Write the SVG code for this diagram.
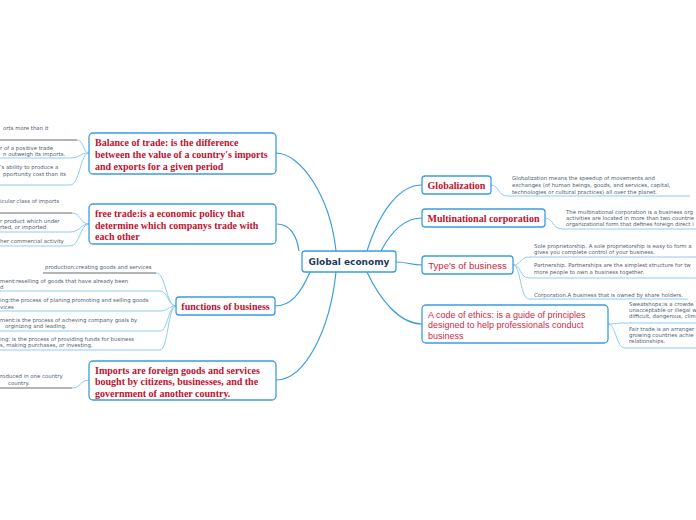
<svg xmlns="http://www.w3.org/2000/svg" width="696" height="520" viewBox="0 0 696 520">
<style>
.box{fill:#fff;stroke:#3a9de0;stroke-width:1.3}
.main{fill:none;stroke:#3a9de0;stroke-width:1.2}
.sub{fill:none;stroke:#8dccf2;stroke-width:1}
.grey{fill:none;stroke:#b4b4b4;stroke-width:2}
.ser{font-family:"Liberation Serif","Times New Roman",serif;font-weight:bold;font-size:10px;fill:#c4102e}
.san{font-family:"Liberation Sans",Arial,sans-serif;fill:#cc1f3f}
.t{font-family:"DejaVu Sans",Verdana,sans-serif;font-size:5.4px;fill:#4f6072}
.c{font-family:"DejaVu Sans",Verdana,sans-serif;font-weight:bold;font-size:9px;fill:#1c3d5a}
</style>
<rect width="696" height="520" fill="#fff"/>
<g id="connectors">
<path class="main" d="M336 251 C330 195 300 153 276 153"/>
<path class="main" d="M299 251 C297 236 290 224 277 224"/>
<path class="main" d="M310 272 C300 295 290 306 275 306"/>
<path class="main" d="M336 272 C330 330 305 380 276 380"/>
<path class="main" d="M367 251 C380 210 400 185 422 185"/>
<path class="main" d="M381 251 C392 230 405 218 422 218"/>
<path class="main" d="M396 262 C408 262 410 265 422 265"/>
<path class="main" d="M367 272 C380 300 400 324 422 324"/>
<path class="sub" d="M491 185 C499 185 498 196 507 196 L690 196"/>
<path class="sub" d="M545 218 C553 218 553 229 562 229 L696 229"/>
<path class="sub" d="M513 265 C521 265 520 257 529 257 L696 257"/>
<path class="sub" d="M513 265 C521 265 520 278 529 278 L696 278"/>
<path class="sub" d="M513 265 C521 265 520 299 529 299 L688 299"/>
<path class="sub" d="M608 324 C616 324 616 323 625 323 L696 323"/>
<path class="sub" d="M608 324 C616 324 616 348 625 348 L696 348"/>
<path class="grey" d="M0 140 L77 140"/>
<path class="sub" d="M77 140 C84 140 83 153 89 153"/>
<path class="sub" d="M0 158 L70 158 C80 158 80 153 89 153"/>
<path class="sub" d="M0 185 L70 185 C80 185 80 153 89 153"/>
<path class="grey" d="M0 213 L72 213"/>
<path class="sub" d="M72 213 C81 213 80 224 89 224"/>
<path class="sub" d="M0 232 L70 232 C80 232 80 224 89 224"/>
<path class="sub" d="M0 246 L70 246 C80 246 80 224 89 224"/>
<path class="grey" d="M43 273 L156 273"/>
<path class="sub" d="M156 273 C166 273 166 306 176 306"/>
<path class="sub" d="M0 291 L160 291 C168 291 168 306 176 306"/>
<path class="sub" d="M0 311 L160 311 C168 311 168 306 176 306"/>
<path class="sub" d="M0 331 L160 331 C168 331 168 306 176 306"/>
<path class="sub" d="M0 350 L160 350 C168 350 168 306 176 306"/>
<path class="grey" d="M0 388 L72 388"/>
<path class="sub" d="M72 388 C81 388 80 380 89 380"/>
</g>
<g id="central">
<rect class="box" x="302" y="251" width="94" height="21" rx="3"/>
<text class="c" x="349" y="265.2" text-anchor="middle">Global economy</text>
</g>
<g id="balance">
<rect class="box" x="89" y="133" width="187" height="41" rx="4"/>
<text class="ser" x="95" y="145.5">Balance of trade: is the difference</text>
<text class="ser" x="95" y="157.5">between the value of a country's imports</text>
<text class="ser" x="95" y="169.5">and exports for a given period</text>
</g>
<g id="balance-subs">
<text class="t" x="3" y="130">orts more than it</text>
<text class="t" x="0" y="150">r of a positive trade</text>
<text class="t" x="3" y="156">n outweigh its imports.</text>
<text class="t" x="0" y="169">'s ability to produce a</text>
<text class="t" x="3" y="175.5">pportunity cost than its</text>
</g>
<g id="freetrade">
<rect class="box" x="89" y="204" width="187" height="40" rx="4"/>
<text class="ser" x="95" y="217">free trade:is a economic policy that</text>
<text class="ser" x="95" y="228.5">determine which companys trade with</text>
<text class="ser" x="95" y="240">each other</text>
</g>
<g id="freetrade-subs">
<text class="t" x="0" y="203">icular class of imports</text>
<text class="t" x="0" y="223">r product which under</text>
<text class="t" x="0" y="229">rted, or imported.</text>
<text class="t" x="0" y="243">her commercial activity</text>
</g>
<g id="functions">
<rect class="box" x="176" y="297" width="99" height="18" rx="3"/>
<text class="ser" x="225.5" y="309.5" text-anchor="middle">functions of business</text>
</g>
<g id="functions-subs">
<text class="t" x="45" y="269">production:creating goods and services</text>
<text class="t" x="0" y="283">ment:reselling of goods that have already been</text>
<text class="t" x="0" y="289">d</text>
<text class="t" x="0" y="302">ing:the process of planing promoting and selling goods</text>
<text class="t" x="0" y="308.5">vices</text>
<text class="t" x="0" y="322">ment:is the process of acheving company goals by</text>
<text class="t" x="5" y="327.7">orginizing and leading.</text>
<text class="t" x="0" y="341">ing: is the process of providing funds for business</text>
<text class="t" x="0" y="347">s, making purchases, or investing.</text>
</g>
<g id="imports">
<rect class="box" x="89" y="361" width="187" height="39" rx="4"/>
<text class="ser" x="95" y="373.5">Imports are foreign goods and services</text>
<text class="ser" x="95" y="385">bought by citizens, businesses, and the</text>
<text class="ser" x="95" y="396.5">government of another country.</text>
</g>
<g id="imports-subs">
<text class="t" x="0" y="378">roduced in one country</text>
<text class="t" x="8" y="385">country.</text>
</g>
<g id="globalization">
<rect class="box" x="422" y="176" width="69" height="18" rx="3"/>
<text class="ser" x="456.5" y="188.5" text-anchor="middle">Globalization</text>
</g>
<g id="globalization-subs">
<text class="t" x="512" y="180">Globalization means the speedup of movements and</text>
<text class="t" x="512" y="186.8">exchanges (of human beings, goods, and services, capital,</text>
<text class="t" x="512" y="193.5">technologies or cultural practices) all over the planet.</text>
</g>
<g id="multinational">
<rect class="box" x="422" y="209" width="123" height="18" rx="3"/>
<text class="ser" x="483.5" y="221.5" text-anchor="middle">Multinational corporation</text>
</g>
<g id="multinational-subs">
<text class="t" x="566" y="214">The multinational corporation is a business org</text>
<text class="t" x="566" y="220">activities are located in more than two countrie</text>
<text class="t" x="566" y="226">organizational form that defines foreign direct i</text>
</g>
<g id="types">
<rect class="box" x="422" y="256" width="91" height="18" rx="3"/>
<text class="san" x="467.5" y="268.5" font-size="9.6" text-anchor="middle">Type's of business</text>
</g>
<g id="types-subs">
<text class="t" x="534" y="247.8">Sole proprietorship. A sole proprietorship is easy to form a</text>
<text class="t" x="534" y="253.5">gives you complete control of your business.</text>
<text class="t" x="534" y="266.8">Partnership. Partnerships are the simplest structure for tw</text>
<text class="t" x="534" y="273.5">more people to own a business together.</text>
<text class="t" x="534" y="296.8">Corporation.A business that is owned by share holders.</text>
</g>
<g id="ethics">
<rect class="box" x="422" y="305" width="186" height="38" rx="4"/>
<text class="san" x="428" y="317.5" font-size="9" style="fill:#d02a4a">A code of ethics: is a guide of principles</text>
<text class="san" x="428" y="328.3" font-size="9" style="fill:#d02a4a">designed to help professionals conduct</text>
<text class="san" x="428" y="339" font-size="9" style="fill:#d02a4a">business</text>
</g>
<g id="ethics-subs">
<text class="t" x="629" y="306">Sweatshops:is a crowde</text>
<text class="t" x="629" y="311.8">unacceptable or illegal w</text>
<text class="t" x="629" y="317.5">difficult, dangerous, clim</text>
<text class="t" x="629" y="331">Fair trade is an arranger</text>
<text class="t" x="629" y="336.8">growing countries achie</text>
<text class="t" x="629" y="342.5">relationships.</text>
</g>
</svg>
